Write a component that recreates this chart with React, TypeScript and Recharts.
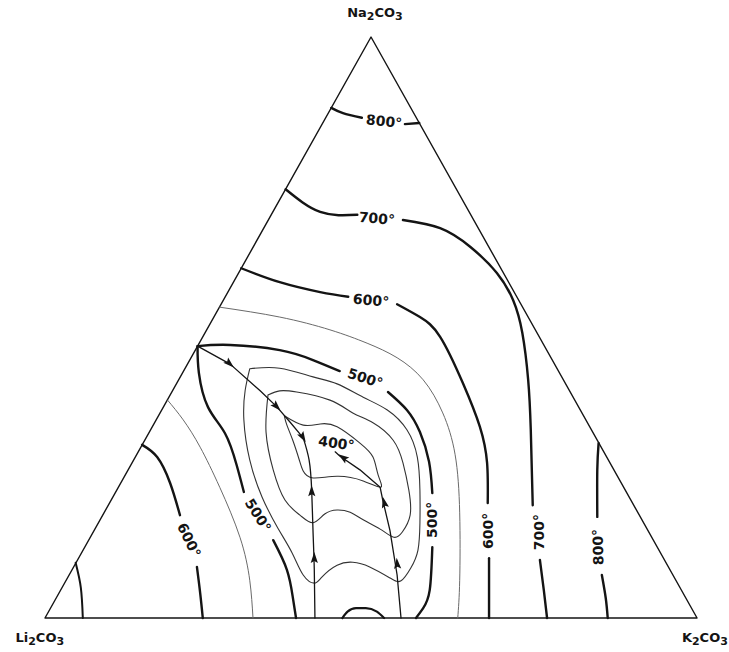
import React from "react";
import { ComposedChart, Line, Scatter, XAxis, YAxis } from "recharts";

type Pt = [number, number];

// Ternary coordinates: x runs Li2CO3 (0) -> K2CO3 (100) along the base,
// y is the Na2CO3 height (apex at y = 100).
const X_DOMAIN = [-6.9, 104.9];
const Y_DOMAIN = [-5.85, 106.37];

const triangle: Pt[] = [[0, 0], [50, 100], [100, 0], [0, 0]];

// Heavy labelled isotherms, split where the label sits
const iso800: Pt[][] = [
  [[43.9, 87.8], [45.7, 86.9], [48.6, 86.1]],
  [[55.2, 85.0], [57.4, 85.2]],
  [[84.9, 30.1], [84.7, 25.5], [84.7, 17.4]],
  [[85.4, 7.4], [86.0, 3.4], [86.3, 0]],
];

const iso700: Pt[][] = [
  [[36.9, 73.8], [42.2, 69.9], [47.9, 69.4]],
  [[54.9, 68.5], [60.6, 67.1], [65.2, 63.9], [69.3, 59.4], [71.8, 54.7], [73.2, 49.1], [74.1, 41.0], [74.5, 32.4], [74.8, 19.4]],
  [[75.9, 10.0], [76.5, 4.8], [77.0, 0]],
];

const iso600: Pt[][] = [
  [[30.1, 60.2], [36.0, 57.8], [42.2, 56.1], [46.5, 55.3]],
  [[54.0, 54.0], [57.5, 51.8], [60.6, 48.4], [64.1, 40.4], [66.7, 32.9], [67.8, 26.7], [67.9, 19.8]],
  [[68.1, 10.3], [68.1, 0]],
  [[14.9, 29.8], [17.2, 27.7], [19.2, 23.2], [20.7, 17.7]],
  [[23.3, 8.8], [23.8, 4.3], [24.2, 0]],
];

const iso500: Pt[][] = [
  [[23.4, 46.8], [28.4, 47.0], [36.0, 46.1], [41.1, 44.4], [45.2, 42.5]],
  [[52.6, 38.9], [55.5, 35.8], [57.5, 32.0], [58.9, 26.9], [59.4, 21.5]],
  [[59.4, 12.2], [59.0, 4.8], [58.0, 1.7], [56.9, 0]],
  [[23.4, 46.8], [23.6, 42.2], [25.0, 36.3], [27.6, 31.8], [29.4, 26.3], [30.5, 21.7]],
  [[35.0, 13.4], [37.1, 8.3], [38.0, 3.6], [38.5, 0]],
];

const cornerCurve: Pt[] = [[4.7, 9.5], [5.5, 5.2], [5.8, 0]];
const baseDome: Pt[] = [[45.6, 0], [46.4, 1.1], [47.7, 1.7], [49.2, 1.7], [50.9, 1.1], [52.0, 0]];

// Light unlabelled isotherms
const thinOuterRight: Pt[] = [
  [26.8, 53.5], [36.0, 51.8], [43.7, 49.6], [49.4, 47.3], [54.0, 44.8], [58.0, 41.0],
  [61.0, 35.3], [62.9, 28.1], [63.6, 18.1], [63.6, 6.5], [63.3, 0],
];
const thinOuterLeft: Pt[] = [
  [18.8, 37.5], [21.2, 34.1], [23.8, 29.4], [26.8, 22.5], [29.9, 13.9], [31.4, 6.5], [31.9, 0],
];
const loopOuter: Pt[] = [
  [31.4, 42.9], [36.0, 43.0], [41.1, 41.5], [44.8, 40.3], [48.8, 38.0], [52.5, 35.8], [55.5, 32.4],
  [57.1, 27.7], [57.5, 22.0], [57.5, 16.4], [57.2, 11.7], [56.1, 8.6], [54.6, 6.4], [52.9, 6.9],
  [49.8, 8.8], [47.2, 9.6], [44.8, 9.1], [42.5, 7.1], [41.3, 6.0], [39.6, 7.4], [37.9, 11.2],
  [35.7, 15.5], [33.3, 20.8], [31.4, 27.2], [30.5, 34.1], [30.7, 39.2], [31.4, 42.9],
];
const loopMiddle: Pt[] = [
  [34.2, 38.4], [36.0, 39.1], [38.6, 38.9], [43.7, 37.5], [47.2, 35.3], [50.3, 33.6], [53.4, 30.6],
  [54.9, 26.7], [55.8, 22.0], [56.0, 17.7], [54.8, 14.8], [53.5, 13.9], [51.4, 15.3], [48.8, 16.9],
  [46.8, 18.2], [44.8, 18.6], [42.9, 17.9], [41.1, 16.4], [39.1, 17.7], [36.8, 20.3], [35.0, 25.5],
  [33.9, 32.0], [34.2, 38.4],
];
const loopInner: Pt[] = [
  [36.7, 34.8], [39.6, 33.2], [42.2, 33.4], [44.8, 32.9], [48.3, 30.1], [50.3, 27.7], [51.1, 24.6],
  [51.5, 22.5], [48.8, 23.6], [44.8, 24.4], [41.1, 24.1], [39.6, 25.3], [39.0, 27.2], [38.0, 30.6],
  [37.1, 33.2], [36.7, 34.8],
];

// Field boundaries running down to the ternary minimum
const boundaryFromNa: Pt[] = [[23.4, 46.8], [28.4, 43.7], [33.0, 39.1], [35.6, 36.3], [37.6, 33.7], [39.6, 31.0]];
const boundaryFromLeft: Pt[] = [[41.4, 0], [41.3, 8.3], [41.1, 15.1], [40.9, 22.0], [40.5, 27.2], [39.6, 31.0]];
const boundaryFromRight: Pt[] = [
  [54.6, 0], [54.0, 7.4], [52.9, 15.1], [51.8, 20.3], [51.4, 22.5], [48.3, 25.5], [45.2, 27.9], [44.5, 28.6],
];

const arrowHeads = [
  { x: 28.4, y: 43.7, angle: 42 },
  { x: 35.6, y: 36.3, angle: 46 },
  { x: 39.6, y: 31.0, angle: 60 },
  { x: 40.9, y: 22.0, angle: -91 },
  { x: 41.3, y: 10.5, angle: -90 },
  { x: 52.0, y: 20.0, angle: -103 },
  { x: 54.0, y: 9.5, angle: -95 },
  { x: 45.6, y: 27.7, angle: -145 },
];

const isoLabels = [
  { x: 52.0, y: 85.5, text: "800°", angle: 6 },
  { x: 50.9, y: 68.8, text: "700°", angle: 5 },
  { x: 50.0, y: 54.7, text: "600°", angle: 5 },
  { x: 49.1, y: 41.3, text: "500°", angle: 18 },
  { x: 44.7, y: 30.1, text: "400°", angle: 8 },
  { x: 59.4, y: 16.9, text: "500°", angle: -90 },
  { x: 67.9, y: 15.0, text: "600°", angle: -90 },
  { x: 75.8, y: 14.8, text: "700°", angle: -90 },
  { x: 84.8, y: 12.2, text: "800°", angle: -92 },
  { x: 32.7, y: 17.7, text: "500°", angle: 58 },
  { x: 22.1, y: 13.4, text: "600°", angle: 64 },
];

const cornerLabels = [
  { x: 50.6, y: 104.3, text: "Na2CO3" },
  { x: -0.8, y: -3.3, text: "Li2CO3" },
  { x: 101.2, y: -3.3, text: "K2CO3" },
];

const toRows = (pts: Pt[]) => pts.map(([x, y]) => ({ x, y }));

const FONT = "'DejaVu Sans', sans-serif";
const INK = "#141414";

const ArrowHead = (props: any) => {
  const { cx, cy, payload } = props;
  return (
    <polygon
      points="5,0 -6,-3.6 -4,0 -6,3.6"
      transform={`translate(${cx},${cy}) rotate(${payload.angle})`}
      fill={INK}
    />
  );
};

const IsoLabel = (props: any) => {
  const { cx, cy, payload } = props;
  return (
    <text
      x={cx}
      y={cy}
      transform={`rotate(${payload.angle} ${cx} ${cy})`}
      textAnchor="middle"
      dominantBaseline="central"
      fontFamily={FONT}
      fontWeight="bold"
      fontSize={14}
      fill={INK}
    >
      {payload.text}
    </text>
  );
};

// Chemical formula with the digits dropped to subscripts
const Formula = (props: any) => {
  const { cx, cy, payload } = props;
  const parts = (payload.text as string).match(/[A-Za-z]+|\d+/g) || [];
  let sub = false;
  return (
    <text x={cx} y={cy} textAnchor="middle" dominantBaseline="central" fontFamily={FONT} fontWeight="bold" fontSize={13} fill={INK}>
      {parts.map((p, i) => {
        const isNum = /\d/.test(p);
        const dy = isNum && !sub ? 4 : !isNum && sub ? -4 : 0;
        sub = isNum;
        return (
          <tspan key={i} dy={dy} fontSize={isNum ? 11 : 13}>
            {p}
          </tspan>
        );
      })}
    </text>
  );
};

const path = (key: string, pts: Pt[], width: number, stroke = INK, type: any = "natural") => (
  <Line
    key={key}
    data={toRows(pts)}
    dataKey="y"
    type={type}
    stroke={stroke}
    strokeWidth={width}
    strokeLinecap="round"
    strokeLinejoin="round"
    dot={false}
    activeDot={false}
    isAnimationActive={false}
  />
);

export default function App() {
  return (
    <div style={{ position: "absolute", left: 0, top: 0, background: "#fff" }}>
      <ComposedChart width={729} height={652} margin={{ top: 0, right: 0, bottom: 0, left: 0 }}>
        <XAxis type="number" dataKey="x" domain={X_DOMAIN} allowDataOverflow hide />
        <YAxis type="number" dataKey="y" domain={Y_DOMAIN} allowDataOverflow hide />

        {path("triangle", triangle, 1.4, INK, "linear")}

        {iso800.map((s, i) => path(`i800-${i}`, s, 2.4))}
        {iso700.map((s, i) => path(`i700-${i}`, s, 2.4))}
        {iso600.map((s, i) => path(`i600-${i}`, s, 2.4))}
        {iso500.map((s, i) => path(`i500-${i}`, s, 2.4))}
        {path("corner", cornerCurve, 2.0)}
        {path("dome", baseDome, 2.2, INK, "monotone")}

        {path("thinOuterRight", thinOuterRight, 1, "#6a6a6a")}
        {path("thinOuterLeft", thinOuterLeft, 1, "#6a6a6a")}
        {path("loopOuter", loopOuter, 1.1, "#333")}
        {path("loopMiddle", loopMiddle, 1.1, "#333")}
        {path("loopInner", loopInner, 1.1, "#333")}

        {path("bNa", boundaryFromNa, 1.3, INK, "linear")}
        {path("bLeft", boundaryFromLeft, 1.3)}
        {path("bRight", boundaryFromRight, 1.3, INK, "linear")}

        <Scatter data={arrowHeads} dataKey="y" shape={ArrowHead} isAnimationActive={false} />
        <Scatter data={isoLabels} dataKey="y" shape={IsoLabel} isAnimationActive={false} />
        <Scatter data={cornerLabels} dataKey="y" shape={Formula} isAnimationActive={false} />
      </ComposedChart>
    </div>
  );
}
